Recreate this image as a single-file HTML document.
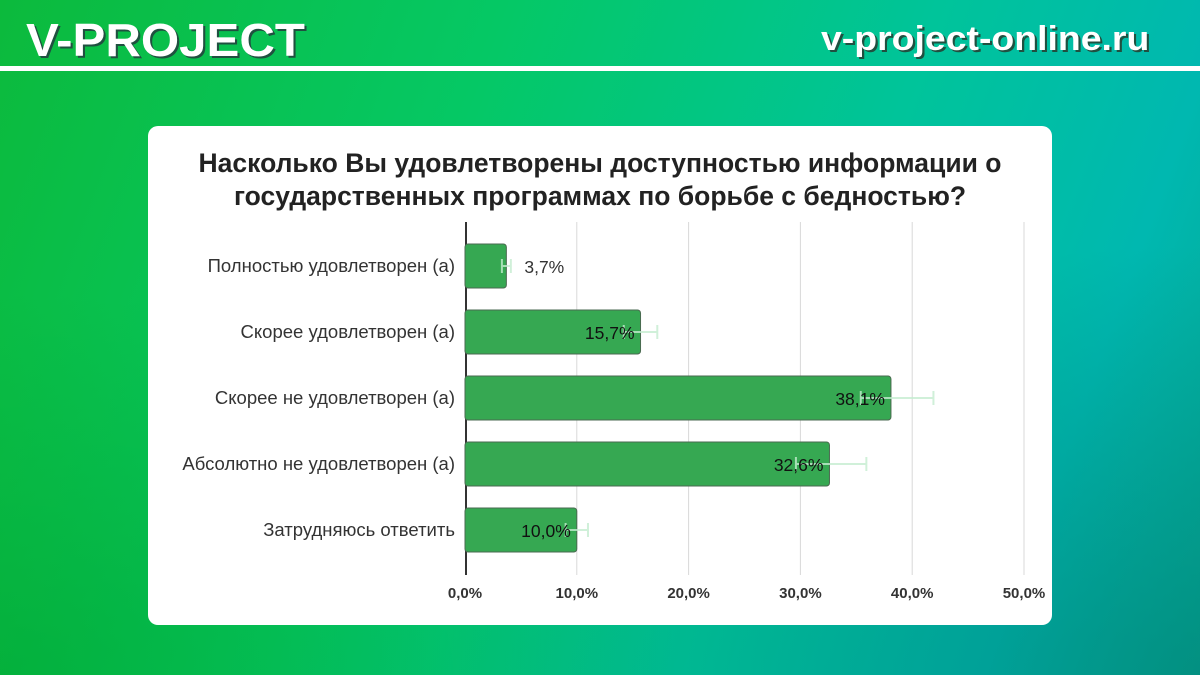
<!DOCTYPE html>
<html><head><meta charset="utf-8"><style>
body{margin:0;width:1200px;height:675px;overflow:hidden;font-family:"Liberation Sans","DejaVu Sans",sans-serif}
#bg{position:absolute;left:0;top:0;width:1200px;height:675px;background:linear-gradient(110deg,#0cba3c 0%,#05c865 35%,#00c49a 65%,#00b8b0 85%,#05a894 100%)}
#bg2{position:absolute;left:0;top:0;width:1200px;height:675px;background:radial-gradient(ellipse at 100% 100%,rgba(0,120,110,.5),transparent 45%),radial-gradient(ellipse at 0% 100%,rgba(0,160,40,.5),transparent 40%)}
.hdr{position:absolute;color:#fff;font-weight:bold;text-shadow:2px 2px 0 #205040;white-space:nowrap}
#line{position:absolute;left:0;top:66px;width:1200px;height:5px;background:#fff}
#card{position:absolute;left:148px;top:126px;width:904px;height:499px;background:#fff;border-radius:10px}
</style></head><body>
<div id="bg"></div>
<div id="bg2"></div>
<div class="hdr" style="left:26px;top:13px;font-size:46px;letter-spacing:0px;transform:scaleX(1.07);transform-origin:left">V-PROJECT</div>
<div class="hdr" style="left:821px;top:20px;font-size:34px;transform:scaleX(1.1);transform-origin:left">v-project-online.ru</div>
<div id="line"></div>
<div id="card"></div>
<svg id="chart" width="1200" height="675" style="position:absolute;left:0;top:0"></svg>
<script>
const categories=["Полностью удовлетворен (а)","Скорее удовлетворен (а)","Скорее не удовлетворен (а)","Абсолютно не удовлетворен (а)","Затрудняюсь ответить"];
const values=[3.7,15.7,38.1,32.6,10.0];
const errLow=[3.3,14.2,35.4,29.6,9.0];
const errHigh=[4.1,17.2,41.9,35.9,11.0];
const valueLabels=["3,7%","15,7%","38,1%","32,6%","10,0%"];
const ticks=[0,10,20,30,40,50];
const tickLabels=["0,0%","10,0%","20,0%","30,0%","40,0%","50,0%"];
const svg=document.getElementById('chart');const NS="http://www.w3.org/2000/svg";
const x0=465,x1=1024,maxV=50;const X=v=>x0+(x1-x0)*v/maxV;
const Y=i=>244+i*66;const bh=44;
function mk(t,a,p){const e=document.createElementNS(NS,t);for(const k in a)e.setAttribute(k,a[k]);(p||svg).appendChild(e);return e;}
const title=mk('text',{x:600,y:170,'text-anchor':'middle','font-size':26.5,'font-weight':'bold',fill:'#222'});


title.innerHTML='<tspan x="600" y="172">Насколько Вы удовлетворены доступностью информации о</tspan><tspan x="600" y="205">государственных программах по борьбе с бедностью?</tspan>';
ticks.forEach((t,i)=>{
 if(i>0){const g=mk('line',{x1:X(t),x2:X(t),y1:222,y2:575,stroke:'#d8d8d8','stroke-width':1});
 
 }
 const l=mk('text',{x:X(t),y:598,'text-anchor':'middle','font-size':15,'font-weight':'bold',fill:'#333'});
 
 
 l.textContent=tickLabels[i];
});
const ax=mk('line',{x1:x0+1,x2:x0+1,y1:222,y2:575,stroke:'#333','stroke-width':2});


values.forEach((v,i)=>{
 const y=Y(i);
 const r=mk('rect',{x:x0,y:y,width:X(v)-x0,height:bh,rx:3,fill:'#36a852',stroke:'#4a6a50','stroke-width':1});
 
 
 const cy=y+bh/2;
 const e=mk('path',{d:`M${X(errLow[i])},${cy}H${X(errHigh[i])}M${X(errLow[i])},${cy-7}V${cy+7}M${X(errHigh[i])},${cy-7}V${cy+7}`,stroke:'#c4ecd0','stroke-width':2,fill:'none',opacity:0.8});
 
 
 const c=mk('text',{x:455,y:cy+6,'text-anchor':'end','font-size':18.5,fill:'#333'});
 
 
 c.textContent=categories[i];
 const inside=v>8;
 const t=mk('text',{x:inside?X(v)-6:X(v)+18,y:cy+7,'text-anchor':inside?'end':'start','font-size':17.5,fill:inside?'#111':'#333'});
 
 
 t.textContent=valueLabels[i];
});
</script>
</body></html>
